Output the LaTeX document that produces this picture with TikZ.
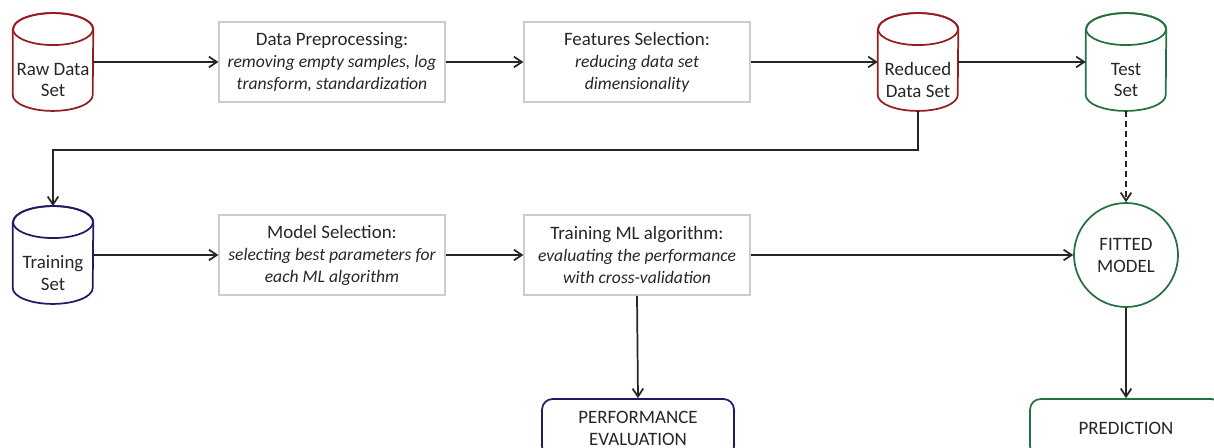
\documentclass[tikz,border=0pt]{standalone}
\usepackage{fontspec}
\setmainfont{Carlito}
\usetikzlibrary{positioning, calc}
\usetikzlibrary{arrows.meta}

\definecolor{dataRed}{RGB}{150,28,32}
\definecolor{testGreen}{RGB}{36,112,64}
\definecolor{trainBlue}{RGB}{28,28,100}
\definecolor{boxGray}{RGB}{204,204,204}

\newcommand{\detail}[1]{{\fontsize{13.2}{16.5}\selectfont\itshape #1}}

% data set drum: name, position, colour, text
\newcommand{\dataset}[4]{%
  \node[dsnode, label={[dslabel]center:#4}] (#1) at (#2) {};
  \draw[dsline, draw=#3] ($(#1.north west)+(0,-12pt)$) -- ($(#1.south west)+(0,12pt)$)
    arc[start angle=180, end angle=360, x radius=30pt, y radius=12pt]
    -- ($(#1.north east)+(0,-12pt)$)
    arc[start angle=0, end angle=180, x radius=30pt, y radius=12pt];
  \draw[dsline, draw=#3] ($(#1.north)+(0,-12pt)$) ellipse[x radius=30pt, y radius=12pt];
}

\tikzset{
  dsnode/.style={minimum width=60pt, minimum height=73pt, inner sep=0pt},
  dsline/.style={line width=1.3pt},
  dslabel/.style={align=center, yshift=-13.5pt},
  stepbox/.style={draw=boxGray, line width=1.3pt, minimum width=169pt, minimum height=60pt,
    align=center, inner sep=2pt, execute at begin node={\rule{0pt}{14pt}}},
  result/.style={draw, rounded corners=8pt, line width=1.3pt, minimum width=144pt,
    minimum height=43.5pt, align=center},
  flow/.style={-{Straight Barb[length=6pt,width=8pt]}, line width=1.3pt, draw=black!85}
}

\begin{document}
\begin{tikzpicture}[x=0.75pt, y=-0.75pt, font=\fontsize{14.2}{16.5}\selectfont, text=black!85]
\useasboundingbox (0,0) rectangle (1214,448);
\clip (0,0) rectangle (1214,448);

% first row: data preparation
\dataset{raw}{53,62}{dataRed}{Raw Data\\Set}
\node[stepbox] (prep) at (332,62) {Data Preprocessing:\\\detail{removing empty samples, log}\\\detail{transform, standardization}};
\node[stepbox] (feat) at (637,62) {Features Selection:\\\detail{reducing data set}\\\detail{dimensionality}};
\dataset{reduced}{918,62}{dataRed}{Reduced\\Data Set}
\dataset{test}{1126,62}{testGreen}{Test\\Set}

% second row: training
\dataset{train}{53,255}{trainBlue}{Training\\Set}
\node[stepbox] (modsel) at (332,255) {Model Selection:\\\detail{selecting best parameters for}\\\detail{each ML algorithm}};
\node[stepbox] (fit) at (637,255) {Training ML algorithm:\\\detail{evaluating the performance}\\\detail{with cross-validation}};
\node[circle, draw=testGreen, line width=1.3pt, minimum size=78pt, align=center] (model) at (1126,255) {FITTED\\MODEL};

% outputs
\node[result, draw=trainBlue] (perf) at (638,428) {PERFORMANCE\\EVALUATION};
\node[result, draw=testGreen] (pred) at (1126,428) {PREDICTION};

\coordinate (split) at (480,150);

\draw[flow] (raw.east) -- (prep.west);
\draw[flow] (prep.east) -- (feat.west);
\draw[flow] (feat.east) -- (reduced.west);
\draw[flow] (reduced.east) -- (test.west);
\draw[flow] (reduced.south) |- (split) -| (train.north);
\draw[flow] (train.east) -- (modsel.west);
\draw[flow] (modsel.east) -- (fit.west);
\draw[flow] (fit.east) -- (model.west);
\draw[flow, dash pattern=on 4.5pt off 3pt] (test.south) -- (model.north);
\draw[flow] (fit.south) -- (perf.north);
\draw[flow] (model.south) -- (pred.north);
\end{tikzpicture}
\end{document}
